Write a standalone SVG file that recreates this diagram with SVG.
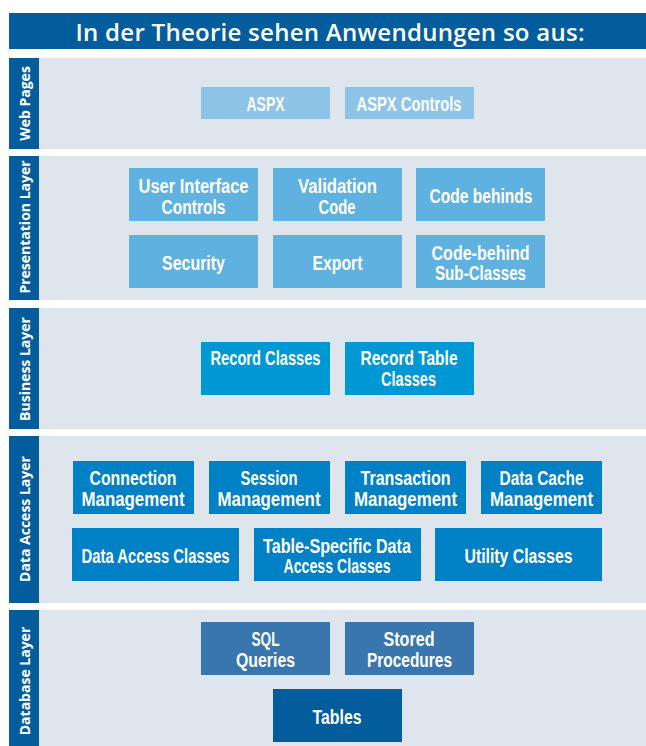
<svg xmlns="http://www.w3.org/2000/svg" width="646" height="746" viewBox="0 0 646 746">
<style>
.bg{fill:#dee5ec}
.strip{fill:#035c9b}
.lab{fill:#fff;font-family:"Open Sans","Liberation Sans",sans-serif;font-weight:bold;font-size:14px;text-anchor:middle}
.t{fill:#fff;font-family:"Liberation Sans","Arial",sans-serif;font-weight:bold;font-size:19.5px;text-anchor:middle}
.web{fill:#8ec4e8}
.pres{fill:#5fb1e0}
.bus{fill:#0098d4}
.dal{fill:#0081c5}
.sql{fill:#3a76ae}
.tab{fill:#035c9b}
</style>
<rect width="646" height="746" fill="#fff"/>
<g id="title">
<rect x="9" y="13" width="637" height="36" class="strip"/>
<text x="330" y="40.5" fill="#fff" font-family="'Open Sans','Liberation Sans',sans-serif" font-weight="600" font-size="24" text-anchor="middle" textLength="509">In der Theorie sehen Anwendungen so aus:</text>
</g>
<g id="layer-web">
<rect x="9" y="58" width="637" height="91" class="bg"/>
<rect x="9" y="58" width="30" height="91" class="strip"/>
<text class="lab" transform="translate(29.5,103.5) rotate(-90)">Web Pages</text>
</g>
<g id="layer-presentation">
<rect x="9" y="156" width="637" height="144" class="bg"/>
<rect x="9" y="156" width="30" height="144" class="strip"/>
<text class="lab" transform="translate(29.5,227) rotate(-90)">Presentation Layer</text>
</g>
<g id="layer-business">
<rect x="9" y="308" width="637" height="121" class="bg"/>
<rect x="9" y="308" width="30" height="121" class="strip"/>
<text class="lab" transform="translate(29.5,369) rotate(-90)">Business Layer</text>
</g>
<g id="layer-dataaccess">
<rect x="9" y="436" width="637" height="167" class="bg"/>
<rect x="9" y="436" width="30" height="167" class="strip"/>
<text class="lab" transform="translate(29.5,519) rotate(-90)">Data Access Layer</text>
</g>
<g id="layer-database">
<rect x="9" y="610" width="637" height="136" class="bg"/>
<rect x="9" y="610" width="30" height="136" class="strip"/>
<text class="lab" transform="translate(29.5,681) rotate(-90)">Database Layer</text>
</g>
<g id="aspx"><rect x="201" y="87" width="129" height="32" class="web"/><text class="t" x="265.5" y="111" textLength="38" lengthAdjust="spacingAndGlyphs">ASPX</text></g>
<g id="aspx-controls"><rect x="345" y="87" width="129" height="32" class="web"/><text class="t" x="409" y="111" textLength="105" lengthAdjust="spacingAndGlyphs">ASPX Controls</text></g>
<g id="ui-controls"><rect x="129" y="168" width="129" height="53" class="pres"/><text class="t" x="193.5" y="192.5" textLength="110" lengthAdjust="spacingAndGlyphs">User Interface</text><text class="t" x="193.5" y="213.5" textLength="64" lengthAdjust="spacingAndGlyphs">Controls</text></g>
<g id="validation-code"><rect x="273" y="168" width="129" height="53" class="pres"/><text class="t" x="337.5" y="192.5" textLength="79" lengthAdjust="spacingAndGlyphs">Validation</text><text class="t" x="337" y="213.5" textLength="37" lengthAdjust="spacingAndGlyphs">Code</text></g>
<g id="code-behinds"><rect x="416" y="168" width="129" height="53" class="pres"/><text class="t" x="481" y="202.5" textLength="103" lengthAdjust="spacingAndGlyphs">Code behinds</text></g>
<g id="security"><rect x="129" y="235" width="129" height="53" class="pres"/><text class="t" x="193.5" y="270" textLength="63" lengthAdjust="spacingAndGlyphs">Security</text></g>
<g id="export"><rect x="273" y="235" width="129" height="53" class="pres"/><text class="t" x="337.5" y="270" textLength="50" lengthAdjust="spacingAndGlyphs">Export</text></g>
<g id="code-behind-subclasses"><rect x="416" y="235" width="129" height="53" class="pres"/><text class="t" x="480.5" y="259.5" textLength="98" lengthAdjust="spacingAndGlyphs">Code-behind</text><text class="t" x="480.5" y="279.5" textLength="91" lengthAdjust="spacingAndGlyphs">Sub-Classes</text></g>
<g id="record-classes"><rect x="201" y="342" width="129" height="53" class="bus"/><text class="t" x="265.5" y="365" textLength="110" lengthAdjust="spacingAndGlyphs">Record Classes</text></g>
<g id="record-table-classes"><rect x="345" y="342" width="129" height="53" class="bus"/><text class="t" x="409" y="365" textLength="97" lengthAdjust="spacingAndGlyphs">Record Table</text><text class="t" x="408.5" y="386" textLength="55" lengthAdjust="spacingAndGlyphs">Classes</text></g>
<g id="connection-mgmt"><rect x="73" y="461" width="121" height="53" class="dal"/><text class="t" x="133" y="484.5" textLength="87" lengthAdjust="spacingAndGlyphs">Connection</text><text class="t" x="133" y="505.5" textLength="103" lengthAdjust="spacingAndGlyphs">Management</text></g>
<g id="session-mgmt"><rect x="209" y="461" width="121" height="53" class="dal"/><text class="t" x="269" y="484.5" textLength="57" lengthAdjust="spacingAndGlyphs">Session</text><text class="t" x="269" y="505.5" textLength="103" lengthAdjust="spacingAndGlyphs">Management</text></g>
<g id="transaction-mgmt"><rect x="345" y="461" width="121" height="53" class="dal"/><text class="t" x="405.5" y="484.5" textLength="90" lengthAdjust="spacingAndGlyphs">Transaction</text><text class="t" x="405.5" y="505.5" textLength="103" lengthAdjust="spacingAndGlyphs">Management</text></g>
<g id="datacache-mgmt"><rect x="481" y="461" width="121" height="53" class="dal"/><text class="t" x="541.5" y="484.5" textLength="84" lengthAdjust="spacingAndGlyphs">Data Cache</text><text class="t" x="541.5" y="505.5" textLength="103" lengthAdjust="spacingAndGlyphs">Management</text></g>
<g id="data-access-classes"><rect x="72" y="528" width="167" height="53" class="dal"/><text class="t" x="155.5" y="562.5" textLength="148" lengthAdjust="spacingAndGlyphs">Data Access Classes</text></g>
<g id="table-specific"><rect x="254" y="528" width="167" height="53" class="dal"/><text class="t" x="337" y="552.5" textLength="148" lengthAdjust="spacingAndGlyphs">Table-Specific Data</text><text class="t" x="337" y="573" textLength="107" lengthAdjust="spacingAndGlyphs">Access Classes</text></g>
<g id="utility-classes"><rect x="435" y="528" width="167" height="53" class="dal"/><text class="t" x="518.5" y="562.5" textLength="108" lengthAdjust="spacingAndGlyphs">Utility Classes</text></g>
<g id="sql-queries"><rect x="201" y="622" width="129" height="53" class="sql"/><text class="t" x="265.5" y="645.5" textLength="28" lengthAdjust="spacingAndGlyphs">SQL</text><text class="t" x="265.5" y="666.5" textLength="59" lengthAdjust="spacingAndGlyphs">Queries</text></g>
<g id="stored-procedures"><rect x="345" y="622" width="129" height="53" class="sql"/><text class="t" x="409" y="645.5" textLength="51" lengthAdjust="spacingAndGlyphs">Stored</text><text class="t" x="409.5" y="666.5" textLength="85" lengthAdjust="spacingAndGlyphs">Procedures</text></g>
<g id="tables"><rect x="273" y="689" width="129" height="53" class="tab"/><text class="t" x="337" y="724" textLength="49" lengthAdjust="spacingAndGlyphs">Tables</text></g>
</svg>
